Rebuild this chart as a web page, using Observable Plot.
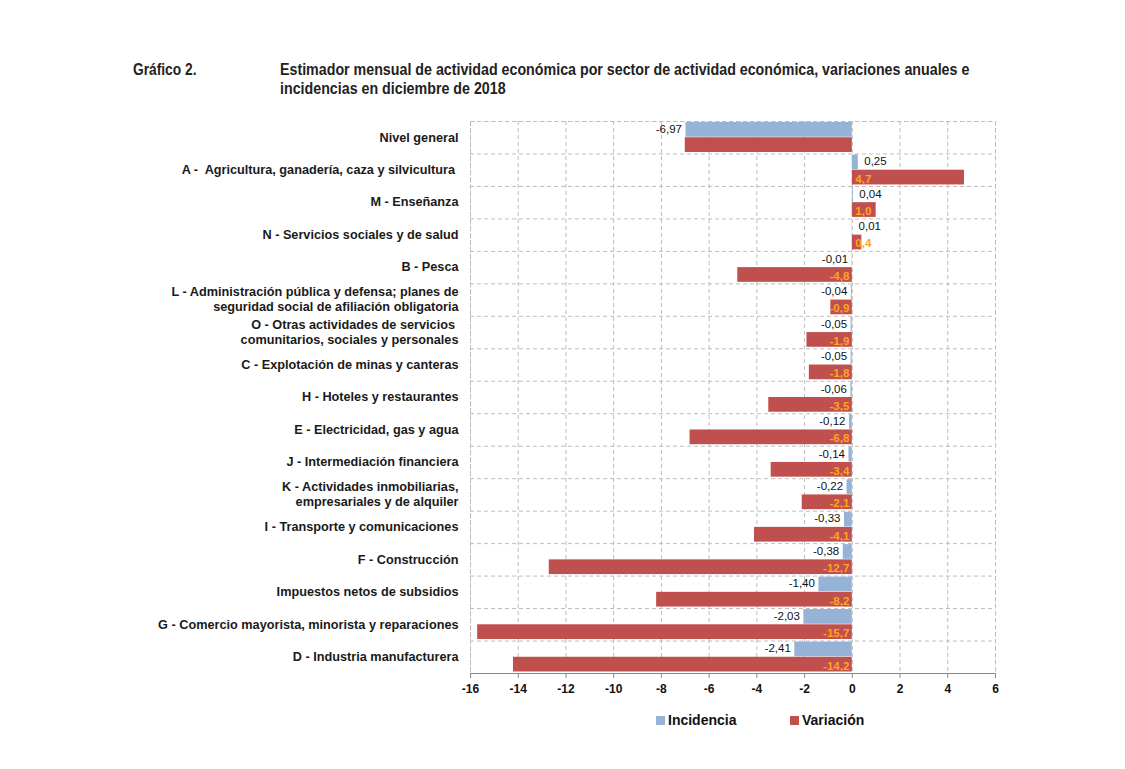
<!DOCTYPE html>
<html>
<head>
<meta charset="utf-8">
<script src="https://cdn.jsdelivr.net/npm/d3@7"></script>
<script src="https://cdn.jsdelivr.net/npm/@observablehq/plot@0.6"></script>
<style>
  html, body { margin: 0; padding: 0; background: #fff; }
  body { width: 1125px; height: 769px; position: relative; overflow: hidden; font-family: "Liberation Sans", Arial, sans-serif; }
  .t { position: absolute; font-family: "Liberation Sans", Arial, sans-serif; font-weight: bold; font-size: 16px; color: #222; line-height: 19px; white-space: nowrap; transform: scaleX(0.89); transform-origin: 0 0; }
  #chart { position: absolute; left: 0; top: 110px; }
  #legend { position: absolute; top: 712px; left: 0; width: 1125px; font-weight: bold; font-size: 14px; color: #111; }
  #legend span.item { position: absolute; display: flex; align-items: center; }
  #legend i { display: inline-block; width: 9px; height: 9px; margin-right: 3px; }
</style>
</head>
<body>
<div class="t" style="left:133px; top:60px; transform: scaleX(0.86);">Gráfico 2.</div>
<div class="t" style="left:280px; top:60px;">Estimador mensual de actividad económica por sector de actividad económica, variaciones anuales e<br>incidencias en diciembre de 2018</div>
<div id="chart"></div>
<div id="legend">
  <span class="item" style="left:656px;"><i style="background:#95B3D7"></i>Incidencia</span>
  <span class="item" style="left:790px;"><i style="background:#C0504D"></i>Variación</span>
</div>
<script>
const categories = [
  "Nivel general",
  "A -  Agricultura, ganadería, caza y silvicultura ",
  "M - Enseñanza",
  "N - Servicios sociales y de salud",
  "B - Pesca",
  "L - Administración pública y defensa; planes de\nseguridad social de afiliación obligatoria",
  "O - Otras actividades de servicios \ncomunitarios, sociales y personales",
  "C - Explotación de minas y canteras",
  "H - Hoteles y restaurantes",
  "E - Electricidad, gas y agua",
  "J - Intermediación financiera",
  "K - Actividades inmobiliarias,\nempresariales y de alquiler",
  "I - Transporte y comunicaciones",
  "F - Construcción",
  "Impuestos netos de subsidios",
  "G - Comercio mayorista, minorista y reparaciones",
  "D - Industria manufacturera"
];
const incidencia = [-6.97, 0.25, 0.04, 0.01, -0.01, -0.04, -0.05, -0.05, -0.06, -0.12, -0.14, -0.22, -0.33, -0.38, -1.40, -2.03, -2.41];
const variacion  = [-7.0, 4.7, 1.0, 0.4, -4.8, -0.9, -1.9, -1.8, -3.5, -6.8, -3.4, -2.1, -4.1, -12.7, -8.2, -15.7, -14.2];
const showVarLabel = [false, true, true, true, true, true, true, true, true, true, true, true, true, true, true, true, true];
const xTicks = [-16, -14, -12, -10, -8, -6, -4, -2, 0, 2, 4, 6];

const rows = categories.map((c, i) => ({cat: c, inc: incidencia[i], vari: variacion[i], showVar: showVarLabel[i]}));

const marginTop = 11, marginBottom = 30, height = 593;
const bh = (height - marginTop - marginBottom) / categories.length;
const grid = "#BDBDBD";
const fmt2 = v => v.toFixed(2).replace(".", ",");
const fmt1 = v => v.toFixed(1).replace(".", ",");
const incNeg = rows.filter(d => d.inc < 0), incPos = rows.filter(d => d.inc >= 0);
const varRows = rows.filter(d => d.showVar);
const varNeg = varRows.filter(d => d.vari < 0), varPos = varRows.filter(d => d.vari >= 0);
const incText = {y: "cat", x: "inc", text: d => fmt2(d.inc), dy: -bh / 4 - 0.5, fill: "#111", fontSize: 11.5};
const varText = {y: "cat", x: 0, text: d => fmt1(d.vari), dy: bh / 4 + 0.5, fill: "#FFA41F", fontWeight: "bold", fontSize: 11.5};

const chart = Plot.plot({
  width: 1125,
  height,
  marginTop,
  marginBottom,
  marginLeft: 470,
  marginRight: 130,
  style: {fontFamily: "'Liberation Sans', Arial, sans-serif", background: "#fff"},
  x: {domain: [-16, 6]},
  y: {domain: categories, padding: 0, round: false},
  marks: [
    Plot.gridX(xTicks, {stroke: grid, strokeOpacity: 1, strokeDasharray: "4,3"}),
    Plot.ruleY(categories, {y: d => d, dy: -bh / 2, stroke: grid, strokeDasharray: "4,3"}),
    Plot.frame({stroke: grid, strokeDasharray: "4,3"}),
    Plot.barX(rows, {y: "cat", x1: 0, x2: "inc", fill: "#95B3D7", insetTop: 1, insetBottom: bh / 2 + 0.5}),
    Plot.barX(rows, {y: "cat", x1: 0, x2: "vari", fill: "#C0504D", insetTop: bh / 2, insetBottom: 1.5}),
    Plot.ruleY(categories.slice(-1), {y: d => d, dy: bh / 2, stroke: "#8c8c8c", strokeWidth: 1}),
    Plot.text(incNeg, {...incText, dx: -4, textAnchor: "end"}),
    Plot.text(incPos, {...incText, dx: 6, textAnchor: "start"}),
    Plot.text(varNeg, {...varText, dx: -3, textAnchor: "end"}),
    Plot.text(varPos, {...varText, dx: 3, textAnchor: "start"}),
    Plot.axisY({tickSize: 0, tickPadding: 12, fontWeight: "bold", fontSize: 12.7, fill: "#1a1a1a", label: null, lineHeight: 1.18, dy: -1}),
    Plot.axisX(xTicks, {anchor: "bottom", tickSize: 5, tickPadding: 6, fontWeight: "bold", fontSize: 12, fill: "#111", stroke: "#8c8c8c", tickFormat: d => String(d), label: null})
  ]
});
document.getElementById("chart").appendChild(chart);
</script>
</body>
</html>
